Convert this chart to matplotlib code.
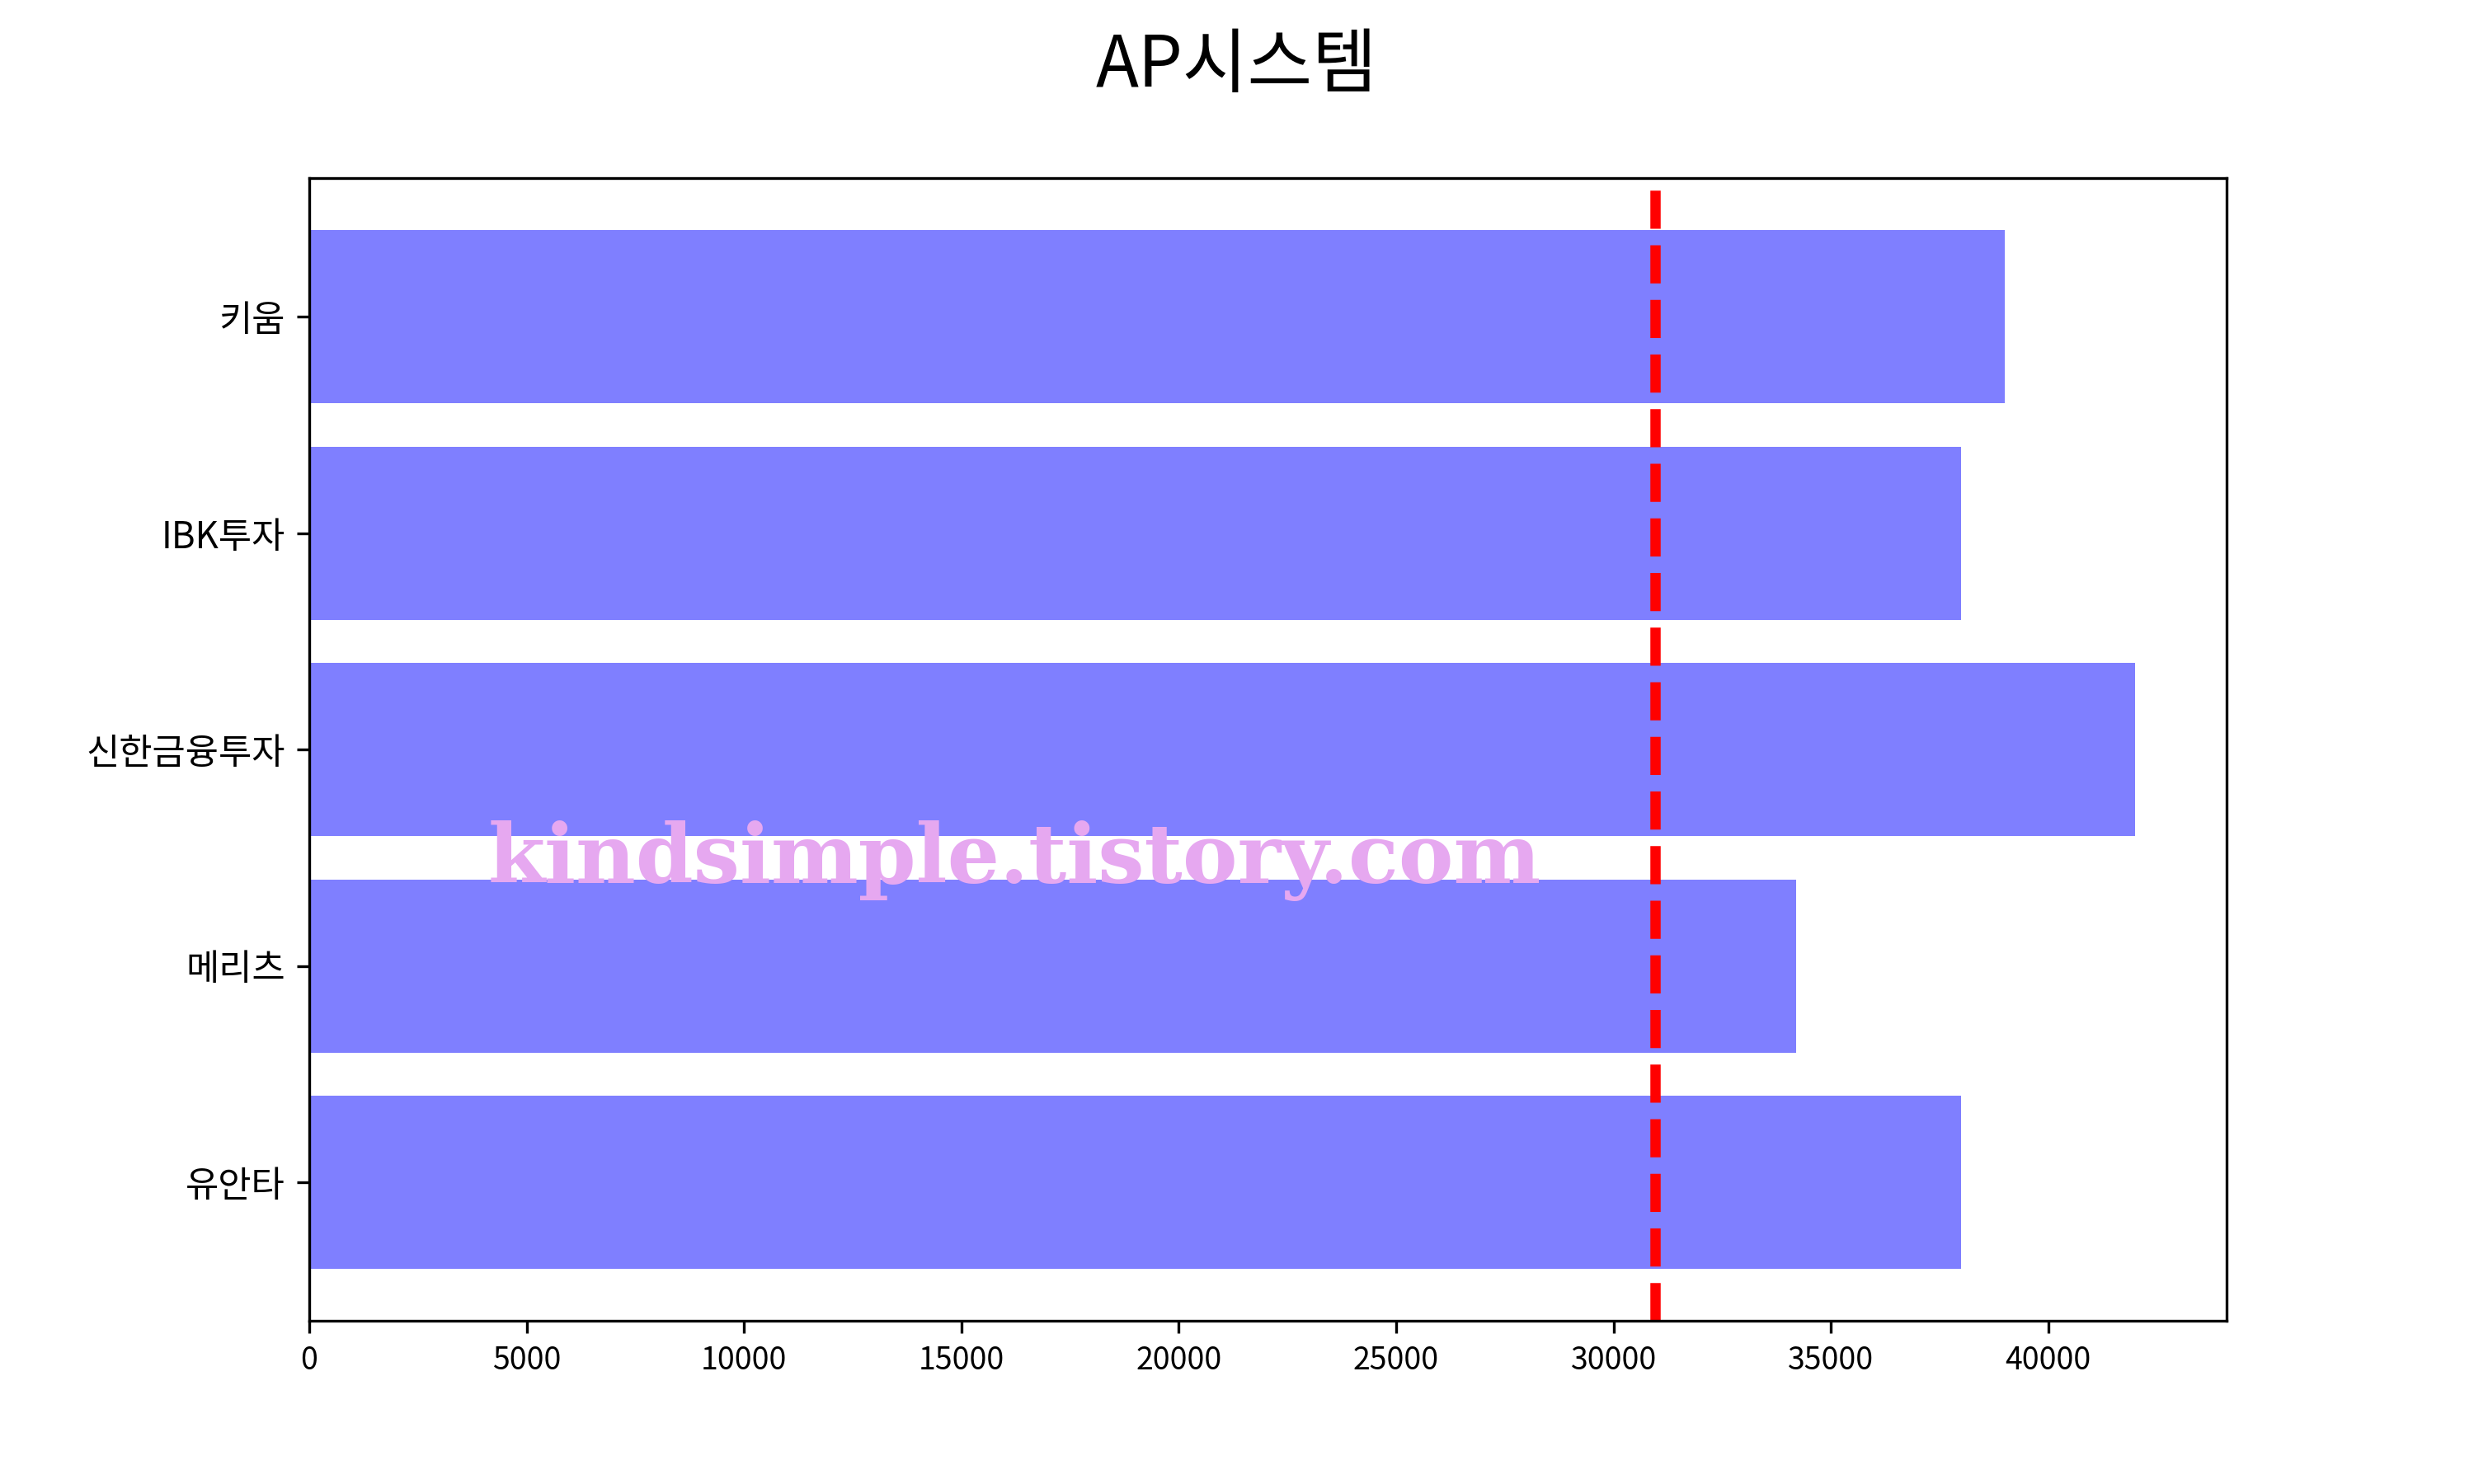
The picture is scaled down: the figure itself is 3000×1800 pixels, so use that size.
import matplotlib
matplotlib.use("Agg")
import matplotlib.pyplot as plt

plt.rcParams["font.family"] = ["Noto Sans CJK KR", "DejaVu Sans"]
plt.rcParams["axes.unicode_minus"] = False

# 증권사별 목표주가
brokers = ["유안타", "메리츠", "신한금융투자", "IBK투자", "키움"]
targets = [38000, 34200, 42000, 38000, 39000]
current_price = 30950
title = "AP시스템"
watermark = "kindsimple.tistory.com"

fig, ax = plt.subplots(figsize=(10, 6), dpi=300)
ax.barh(brokers, targets, color="blue", alpha=0.5)
ax.axvline(current_price, color="red", linestyle="--", linewidth=3)
ax.tick_params(axis="x", labelsize=9)
ax.tick_params(axis="y", labelsize=10.5)
fig.suptitle(title, fontsize=20.5)

fig.text(0.41, 0.405, watermark, ha="center", va="baseline",
         fontsize=24, fontweight="heavy", family="DejaVu Serif",
         color="#E6A8F0", zorder=10)

fig.savefig("out.png", dpi=300)
